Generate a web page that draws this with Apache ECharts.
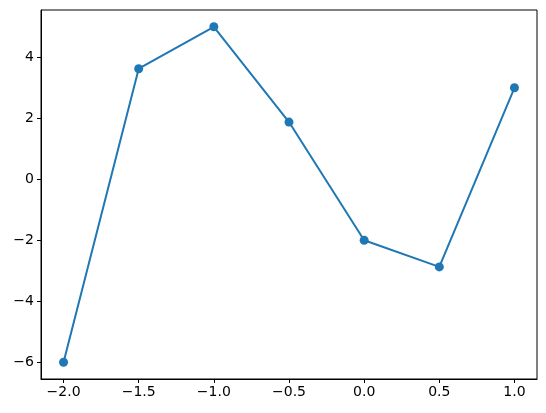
<!DOCTYPE html>
<html>
<head>
<meta charset="utf-8">
<script src="https://cdn.jsdelivr.net/npm/echarts@6/dist/echarts.min.js"></script>
<style>html,body{margin:0;padding:0;background:#fff}#c{width:546px;height:413px}</style>
</head>
<body>
<div id="c"></div>
<script>
const xValues = [-2.0, -1.5, -1.0, -0.5, 0.0, 0.5, 1.0];
const yValues = [-6, 3.625, 5, 1.875, -2, -2.875, 3];
const xTicks = [-2.0, -1.5, -1.0, -0.5, 0.0, 0.5, 1.0];
const yTicks = [-6, -4, -2, 0, 2, 4];

const minus = s => String(s).replace('-', '\u2212');
const chart = echarts.init(document.getElementById('c'), null, {renderer: 'canvas'});
chart.setOption({
  animation: false,
  grid: {left: 41, right: 9, top: 10, bottom: 34, show: true, borderColor: '#000', borderWidth: 1, backgroundColor: 'transparent'},
  xAxis: {
    type: 'value', min: -2.15, max: 1.15,
    splitLine: {show: false},
    axisLine: {show: true, onZero: false, lineStyle: {color: '#000', width: 1}},
    axisTick: {show: true, inside: false, length: 4, lineStyle: {color: '#000'}, customValues: xTicks},
    axisLabel: {color: '#000', fontSize: 14, fontFamily: 'DejaVu Sans', margin: 6, customValues: xTicks,
      formatter: v => minus(Number(v).toFixed(1))}
  },
  yAxis: {
    type: 'value', min: -6.55, max: 5.55,
    splitLine: {show: false},
    axisLine: {show: true, onZero: false, lineStyle: {color: '#000', width: 1}},
    axisTick: {show: true, inside: false, length: 4, lineStyle: {color: '#000'}, customValues: yTicks},
    axisLabel: {color: '#000', fontSize: 14, fontFamily: 'DejaVu Sans', margin: 7, customValues: yTicks,
      formatter: v => minus(Math.round(v))}
  },
  series: [{
    type: 'line',
    data: xValues.map((x, i) => [x, yValues[i]]),
    lineStyle: {color: '#1f77b4', width: 2},
    itemStyle: {color: '#1f77b4'},
    symbol: 'circle', symbolSize: 9, showSymbol: true
  }]
});
</script>
</body>
</html>
